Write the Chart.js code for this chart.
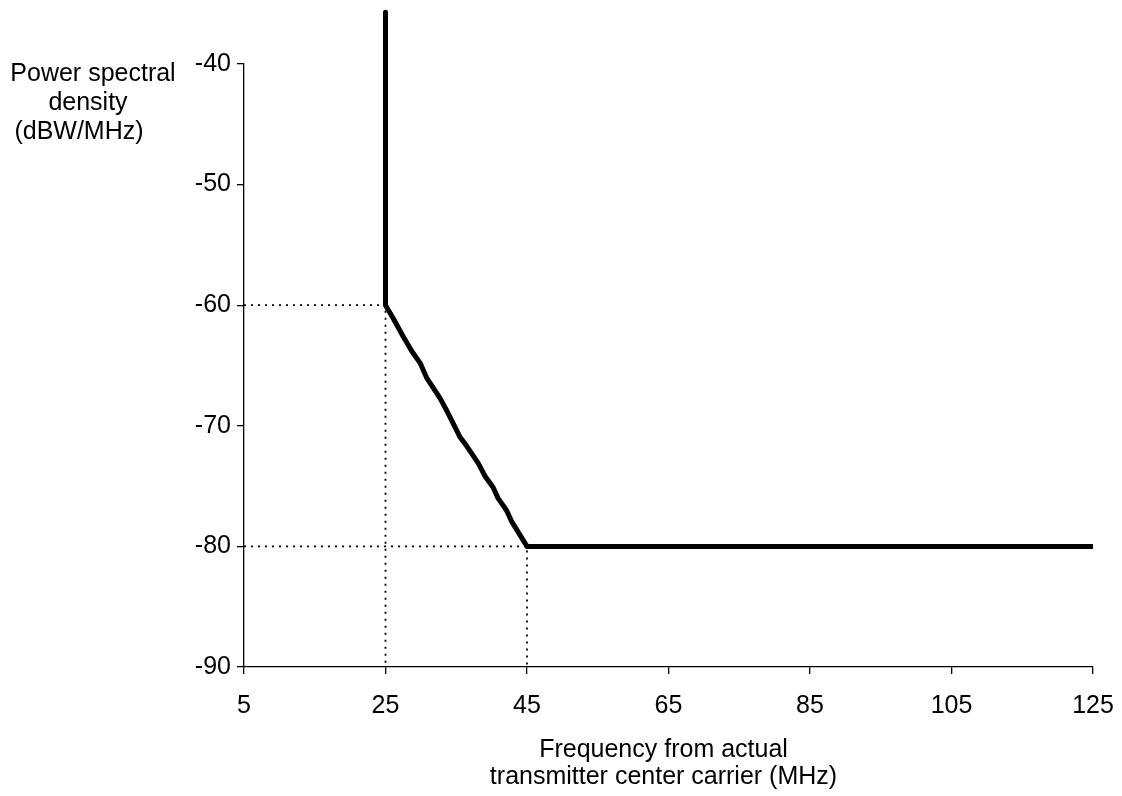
<!DOCTYPE html>
<html>
<head>
<meta charset="utf-8">
<script src="https://cdn.jsdelivr.net/npm/chart.js@4/dist/chart.umd.min.js"></script>
<style>
  html, body { margin: 0; padding: 0; background: #fff; }
  #wrap { width: 1122px; height: 796px; position: relative; }
</style>
</head>
<body>
<div id="wrap"><canvas id="psd" width="1122" height="796"></canvas></div>
<script>
// ================================
// DATA
// ================================
const maskFreq = [25, 25, 26, 27.5, 28.7, 29.9, 30.8, 32.7, 33.8, 35.5, 36.5, 38.1, 39.1, 40.2, 40.9, 42.1, 42.8, 45, 125];
const maskPsd = [-35.7, -60, -61, -62.6, -63.8, -64.8, -66, -67.7, -68.9, -70.9, -71.7, -73.1, -74.2, -75.1, -76, -77, -77.9, -80, -80];

// corner points marked with dotted guide lines
const guideFreq = [25, 45];
const guidePsd = [-60, -80];

const xTicks = [5, 25, 45, 65, 85, 105, 125];
const yTicks = [-90, -80, -70, -60, -50, -40];

const yTitle = ["Power spectral", "density", "(dBW/MHz)"];
const xTitle = ["Frequency from actual", "transmitter center carrier (MHz)"];

const FONT = "'Liberation Sans', Arial, sans-serif";

// ================================
// DATASETS
// ================================
const datasets = [{
  data: maskFreq.map((f, i) => ({ x: f, y: maskPsd[i] })),
  borderColor: "#000",
  borderWidth: 5,
  pointRadius: 0,
  fill: false,
  tension: 0,
  clip: false,
  borderJoinStyle: "round",
  borderCapStyle: "butt"
}];

guideFreq.forEach((f, i) => {
  datasets.push({
    data: [
      { x: xTicks[0], y: guidePsd[i] },
      { x: f, y: guidePsd[i] },
      { x: f, y: yTicks[0] }
    ],
    borderColor: "#000",
    borderWidth: 1.8,
    borderDash: [2, 5],
    pointRadius: 0,
    fill: false
  });
});

// titles drawn as plain horizontal text
const titlesPlugin = {
  id: "titles",
  afterDraw(chart) {
    const ctx = chart.ctx;
    const area = chart.chartArea;
    ctx.save();
    ctx.fillStyle = "#000";
    ctx.font = "25px " + FONT;
    ctx.textAlign = "center";
    ctx.textBaseline = "middle";
    const yCenters = [93, 88, 79];
    yTitle.forEach((t, i) => ctx.fillText(t, yCenters[i], 74 + i * 29));
    const cx = (area.left + area.right) / 2 - 5;
    xTitle.forEach((t, i) => ctx.fillText(t, cx, 750 + i * 27));
    ctx.restore();
  }
};

new Chart(document.getElementById("psd"), {
  type: "line",
  data: { datasets },
  plugins: [titlesPlugin],
  options: {
    responsive: false,
    animation: false,
    layout: { padding: { top: 64, right: 29, left: 0, bottom: 0 } },
    plugins: {
      legend: { display: false },
      tooltip: { enabled: false }
    },
    scales: {
      x: {
        type: "linear",
        min: 5,
        max: 125,
        afterBuildTicks: s => { s.ticks = xTicks.map(v => ({ value: v })); },
        afterFit: s => { s.height = 129; s.paddingRight = 0; },
        ticks: { color: "#000", font: { family: FONT, size: 25 }, padding: 17 },
        grid: { drawOnChartArea: false, drawTicks: true, tickLength: 7, color: "#000", lineWidth: 1.3 },
        border: { color: "#000", width: 1.3 }
      },
      y: {
        min: -90,
        max: -40,
        afterBuildTicks: s => { s.ticks = yTicks.map(v => ({ value: v })); },
        afterFit: s => { s.width = 244; },
        ticks: { color: "#000", font: { family: FONT, size: 25 }, padding: 6 },
        grid: { drawOnChartArea: false, drawTicks: true, tickLength: 7, color: "#000", lineWidth: 1.3 },
        border: { color: "#000", width: 1.3 }
      }
    }
  }
});
</script>
</body>
</html>
